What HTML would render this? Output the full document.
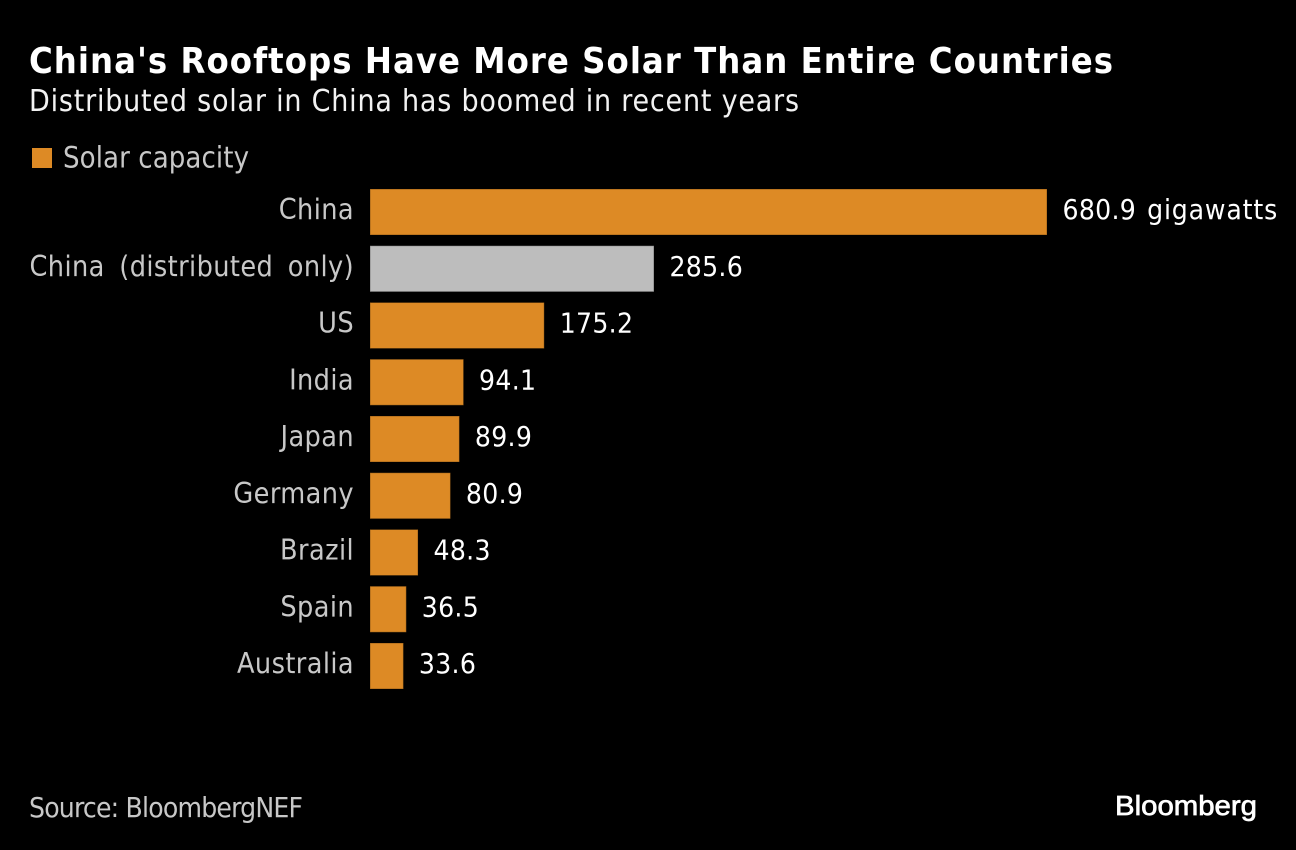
<!DOCTYPE html>
<html lang="en">
<head>
<meta charset="utf-8">
<title>China's Rooftops Have More Solar Than Entire Countries</title>
<style>
html,body{margin:0;padding:0;background:#000;width:1296px;height:850px;overflow:hidden}
svg{display:block}
text{font-family:"DejaVu Sans Condensed","DejaVu Sans","Liberation Sans",sans-serif}
</style>
</head>
<body>
<svg id="chart" width="1296" height="850" viewBox="0 0 1296 850" xmlns="http://www.w3.org/2000/svg">
<rect width="1296" height="850" fill="#000"/>
<text x="29" y="73" font-size="36" font-weight="700" fill="#fff" textLength="1084" lengthAdjust="spacing">China's Rooftops Have More Solar Than Entire Countries</text>
<text x="29" y="111" font-size="30" fill="#f2f2f2" textLength="770" lengthAdjust="spacing">Distributed solar in China has boomed in recent years</text>
<rect x="32" y="148" width="20" height="20" fill="#dd8a25"/>
<text x="63" y="167.5" font-size="29" fill="#c8c8c8" textLength="186" lengthAdjust="spacing">Solar capacity</text>
<g id="bars"></g>
<text x="29" y="817" font-size="28" fill="#c8c8c8" textLength="274" lengthAdjust="spacing">Source: BloombergNEF</text>
<text x="1115" y="815" font-size="28" fill="#fff" stroke="#fff" stroke-width="0.7" style="font-family:'Liberation Sans',sans-serif" textLength="142" lengthAdjust="spacingAndGlyphs">Bloomberg</text>
</svg>
<script>
const categories = ["China", "China (distributed only)", "US", "India", "Japan", "Germany", "Brazil", "Spain", "Australia"];
const capacityValues = [680.9, 285.6, 175.2, 94.1, 89.9, 80.9, 48.3, 36.5, 33.6];
const valueLabels = ["680.9", "285.6", "175.2", "94.1", "89.9", "80.9", "48.3", "36.5", "33.6"];
const firstLabelUnit = "gigawatts";
const highlightedCategory = "China (distributed only)";

const NS = "http://www.w3.org/2000/svg";
const plotLeft = 370, pxPerUnit = 677 / 680.9, rowTop = 189, rowStep = 56.75, barHeight = 46;
const xScale = v => plotLeft + v * pxPerUnit;
const yScale = i => rowTop + i * rowStep;
const group = document.getElementById("bars");

categories.forEach((name, i) => {
  const value = capacityValues[i];
  const y = yScale(i);
  const slug = name.toLowerCase().replace(/[^a-z]+/g, "-").replace(/-$/, "");

  const bar = document.createElementNS(NS, "rect");
  
  
  bar.setAttribute("x", plotLeft);
  bar.setAttribute("y", y);
  bar.setAttribute("width", xScale(value) - plotLeft);
  bar.setAttribute("height", barHeight);
  bar.setAttribute("fill", name === highlightedCategory ? "#bdbdbd" : "#dd8a25");
  bar.setAttribute("stroke", "#000");
  bar.setAttribute("stroke-opacity", "0.3");
  bar.setAttribute("stroke-width", "1");
  group.appendChild(bar);

  const label = document.createElementNS(NS, "text");
  
  
  label.setAttribute("x", 354);
  label.setAttribute("y", y + 30);
  label.setAttribute("text-anchor", "end");
  label.setAttribute("font-size", "28.5");
  label.setAttribute("letter-spacing", "0.4");
  label.setAttribute("word-spacing", "6");
  label.setAttribute("fill", "#c8c8c8");
  label.textContent = name;
  group.appendChild(label);

  const val = document.createElementNS(NS, "text");
  
  
  val.setAttribute("x", xScale(value) + 15.5);
  val.setAttribute("y", y + 30);
  val.setAttribute("font-size", "28");
  val.setAttribute("letter-spacing", "0.3");
  val.setAttribute("fill", "#ffffff");
  val.textContent = valueLabels[i];
  if (i === 0) {
    const unit = document.createElementNS(NS, "tspan");
    
    
    unit.setAttribute("dx", "11");
    unit.setAttribute("letter-spacing", "0.85");
    unit.textContent = firstLabelUnit;
    val.appendChild(unit);
  }
  group.appendChild(val);
});
</script>
</body>
</html>
